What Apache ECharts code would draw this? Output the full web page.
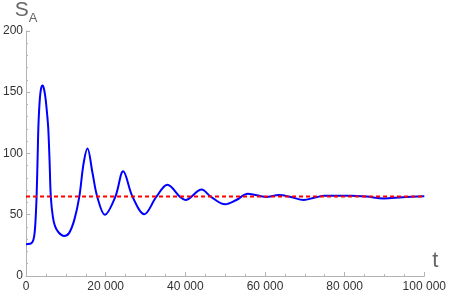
<!DOCTYPE html>
<html><head><meta charset="utf-8">
<script src="https://cdn.jsdelivr.net/npm/echarts@6/dist/echarts.min.js"></script>
<style>html,body{margin:0;padding:0;background:#fff}#c{width:449px;height:299px}</style>
</head><body><div id="c"></div>
<script>
const tValues = [0,1000,1500,1850,2150,2400,2650,2900,3130,3500,3850,4190,4550,4900,5300,5590,5900,6230,6750,7300,8200,9530,10800,12140,13370,14460,15440,16670,17900,19800,22410,24400,26700,29700,32700,35500,38700,40000,44100,46300,50000,52800,55700,60300,63500,66500,69700,72500,75000,81500,85500,89800,94500,100000];
const sA = [26,26.3,27.3,29.5,35,46,64.5,95,124,146,154,155.4,152,145,132,120,95,64.5,48,40.5,35.5,32.7,35,46,64.5,92,104,84.5,64.5,50,64.5,85.5,65,50.4,64.5,74.5,64.5,62,70.5,65,58.5,62,67.2,64.5,66,64.5,62,64,65.5,65.5,64.8,63.3,64.3,65];
const eqT = [0,100000];
const eqS = [64.8,64.8];
const xTicks = {min:0,max:100000,interval:20000};
const yTicks = {min:0,max:200,interval:50};

const chart = echarts.init(document.getElementById('c'), null, {renderer:'canvas'});
const fmt = v => v >= 1000 ? String(v).replace(/\B(?=(\d{3})+(?!\d))/g,' ') : String(v);
const axisCol = '#b3b3b3';
chart.setOption({
  animation:false,
  grid:{left:22,right:21,top:27,bottom:23,containLabel:false},
  xAxis:{type:'value',min:xTicks.min,max:xTicks.max,interval:xTicks.interval,
    name:'t',nameLocation:'end',nameGap:8,
    nameTextStyle:{fontFamily:'Liberation Sans',fontSize:22,color:'#666',verticalAlign:'bottom',padding:[0,0,4,0]},
    axisLine:{lineStyle:{color:axisCol,width:1}},
    axisTick:{inside:true,length:4,lineStyle:{color:axisCol}},
    minorTick:{show:true,splitNumber:4,length:2,lineStyle:{color:axisCol}},
    splitLine:{show:false},
    axisLabel:{formatter:fmt,fontFamily:'Liberation Sans',fontSize:12,color:'#333',margin:5,showMaxLabel:true,showMinLabel:true}},
  yAxis:{type:'value',min:yTicks.min,max:yTicks.max,interval:yTicks.interval,
    name:'{s|S}{a|A}',nameLocation:'end',nameGap:6,
    nameTextStyle:{align:'center',verticalAlign:'bottom',rich:{s:{fontFamily:'Liberation Sans',fontSize:21,color:'#666'},a:{fontFamily:'Liberation Sans',fontSize:13,color:'#666',verticalAlign:'bottom',padding:[0,0,-4,0]}}},
    axisLine:{show:true,lineStyle:{color:axisCol,width:1}},
    axisTick:{show:true,inside:true,length:4,lineStyle:{color:axisCol}},
    minorTick:{show:true,splitNumber:5,length:2,lineStyle:{color:axisCol}},
    splitLine:{show:false},
    axisLabel:{fontFamily:'Liberation Sans',fontSize:12,color:'#333',margin:3}},
  series:[
    {type:'line',data:tValues.map((t,i)=>[t,sA[i]]),showSymbol:false,smooth:0.35,
     lineStyle:{color:'#0000ff',width:2},z:2},
    {type:'line',data:eqT.map((t,i)=>[t,eqS[i]]),showSymbol:false,
     lineStyle:{color:'#ff0000',width:2,type:[4,3]},z:3}
  ]
});
</script></body></html>
